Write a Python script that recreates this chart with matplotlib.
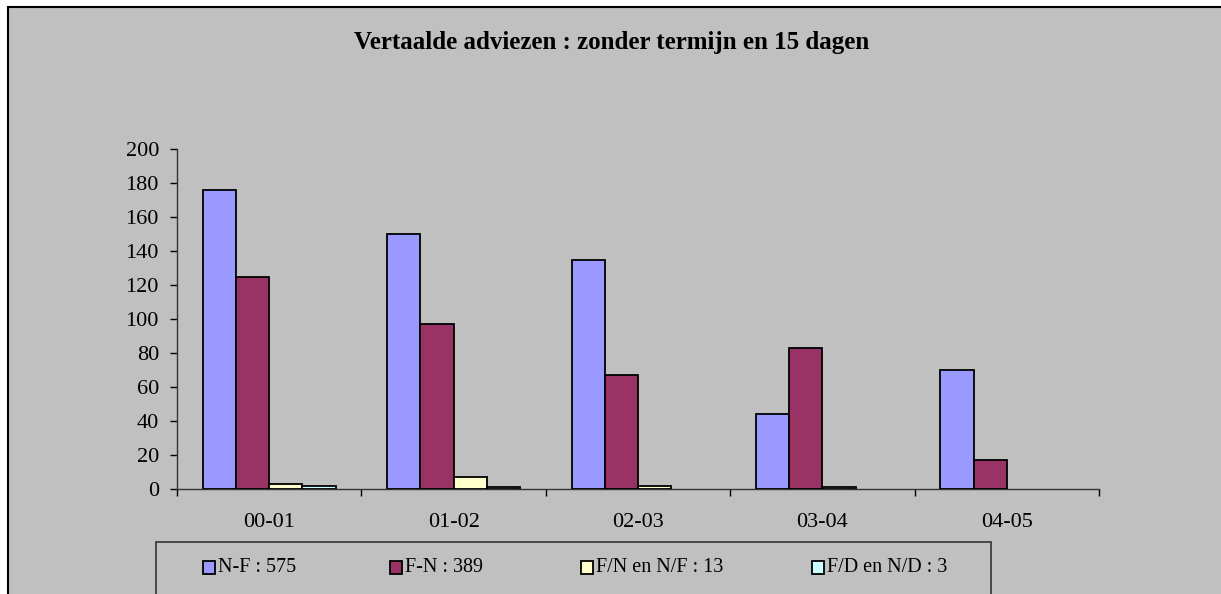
import matplotlib
matplotlib.use("Agg")
import matplotlib.pyplot as plt
from matplotlib.patches import Rectangle
import numpy as np

categories = ["00-01", "01-02", "02-03", "03-04", "04-05"]
series_names = ["N-F : 575", "F-N : 389", "F/N en N/F : 13", "F/D en N/D : 3"]
nf = [176, 150, 135, 44, 70]
fn = [125, 97, 67, 83, 17]
fn_nf = [3, 7, 2, 1, 0]
fd_nd = [2, 1, 0, 0, 0]
yticks = [0, 20, 40, 60, 80, 100, 120, 140, 160, 180, 200]
title = "Vertaalde adviezen : zonder termijn en 15 dagen"

colors = ["#9999FF", "#993366", "#FFFFCC", "#CCFFFF"]
GRAY = "#C0C0C0"
W, H = 1221, 594

plt.rcParams['font.family'] = ['Liberation Serif', 'DejaVu Serif']

fig = plt.figure(figsize=(W / 100, H / 100), dpi=100)
fig.patch.set_facecolor("white")

def fx(px):
    return px / W

def fy(py):
    return 1 - py / H

# chart area background
bg = Rectangle((fx(8), -0.05), 1.0, fy(7) + 0.05, transform=fig.transFigure,
               facecolor=GRAY, edgecolor="black", linewidth=1.5, zorder=-10)
fig.patches.append(bg)

ax = fig.add_axes([fx(177), fy(489), fx(1099) - fx(177), fy(149) - fy(489)])
ax.set_zorder(5)
ax.patch.set_alpha(0)

x = np.arange(len(categories))
w = 0.18
data = [nf, fn, fn_nf, fd_nd]
for i, (vals, c, name) in enumerate(zip(data, colors, series_names)):
    lws = [1.3 if v != 0 else 0 for v in vals]
    ax.bar(x + (i - 1.5) * w, vals, width=w, color=c, edgecolor="black",
           linewidth=lws, label=name, zorder=3)

ax.set_xlim(-0.5, len(categories) - 0.5)
ax.set_ylim(0, 200)
ax.set_yticks(yticks)
ax.set_yticklabels([str(v) for v in yticks], fontsize=16)
ax.set_xticks(x)
ax.set_xticklabels(categories, fontsize=16)
ax.tick_params(axis="x", which="major", length=0, pad=17)
ax.set_xticks(np.arange(len(categories) + 1) - 0.5, minor=True)
ax.tick_params(axis="x", which="minor", length=5, width=1, color="black", direction="out")
ax.tick_params(axis="y", length=5, width=1, color="black", direction="out", pad=8)
for s in ["top", "right"]:
    ax.spines[s].set_visible(False)
for s in ["left", "bottom"]:
    ax.spines[s].set_color("#333333")
    ax.spines[s].set_linewidth(1)

fig.text(fx(612), fy(42), title, ha="center", va="center", fontsize=18,
         fontweight="bold")

# legend box
leg = Rectangle((fx(156), -0.05), fx(991) - fx(156), fy(542) + 0.05, transform=fig.transFigure,
                facecolor=GRAY, edgecolor="#333333", linewidth=1.2, zorder=1)
fig.patches.append(leg)
sq_x = [203, 390, 581, 812]
for px, c, name in zip(sq_x, colors, series_names):
    sq = Rectangle((fx(px), fy(574)), fx(12), 13 / H, transform=fig.transFigure,
                   facecolor=c, edgecolor="black", linewidth=1.3, zorder=2)
    fig.patches.append(sq)
    fig.text(fx(px + 15), fy(568), name, ha="left", va="center", fontsize=14.5, zorder=3)

fig.savefig("out.png", dpi=100, facecolor=fig.get_facecolor())
